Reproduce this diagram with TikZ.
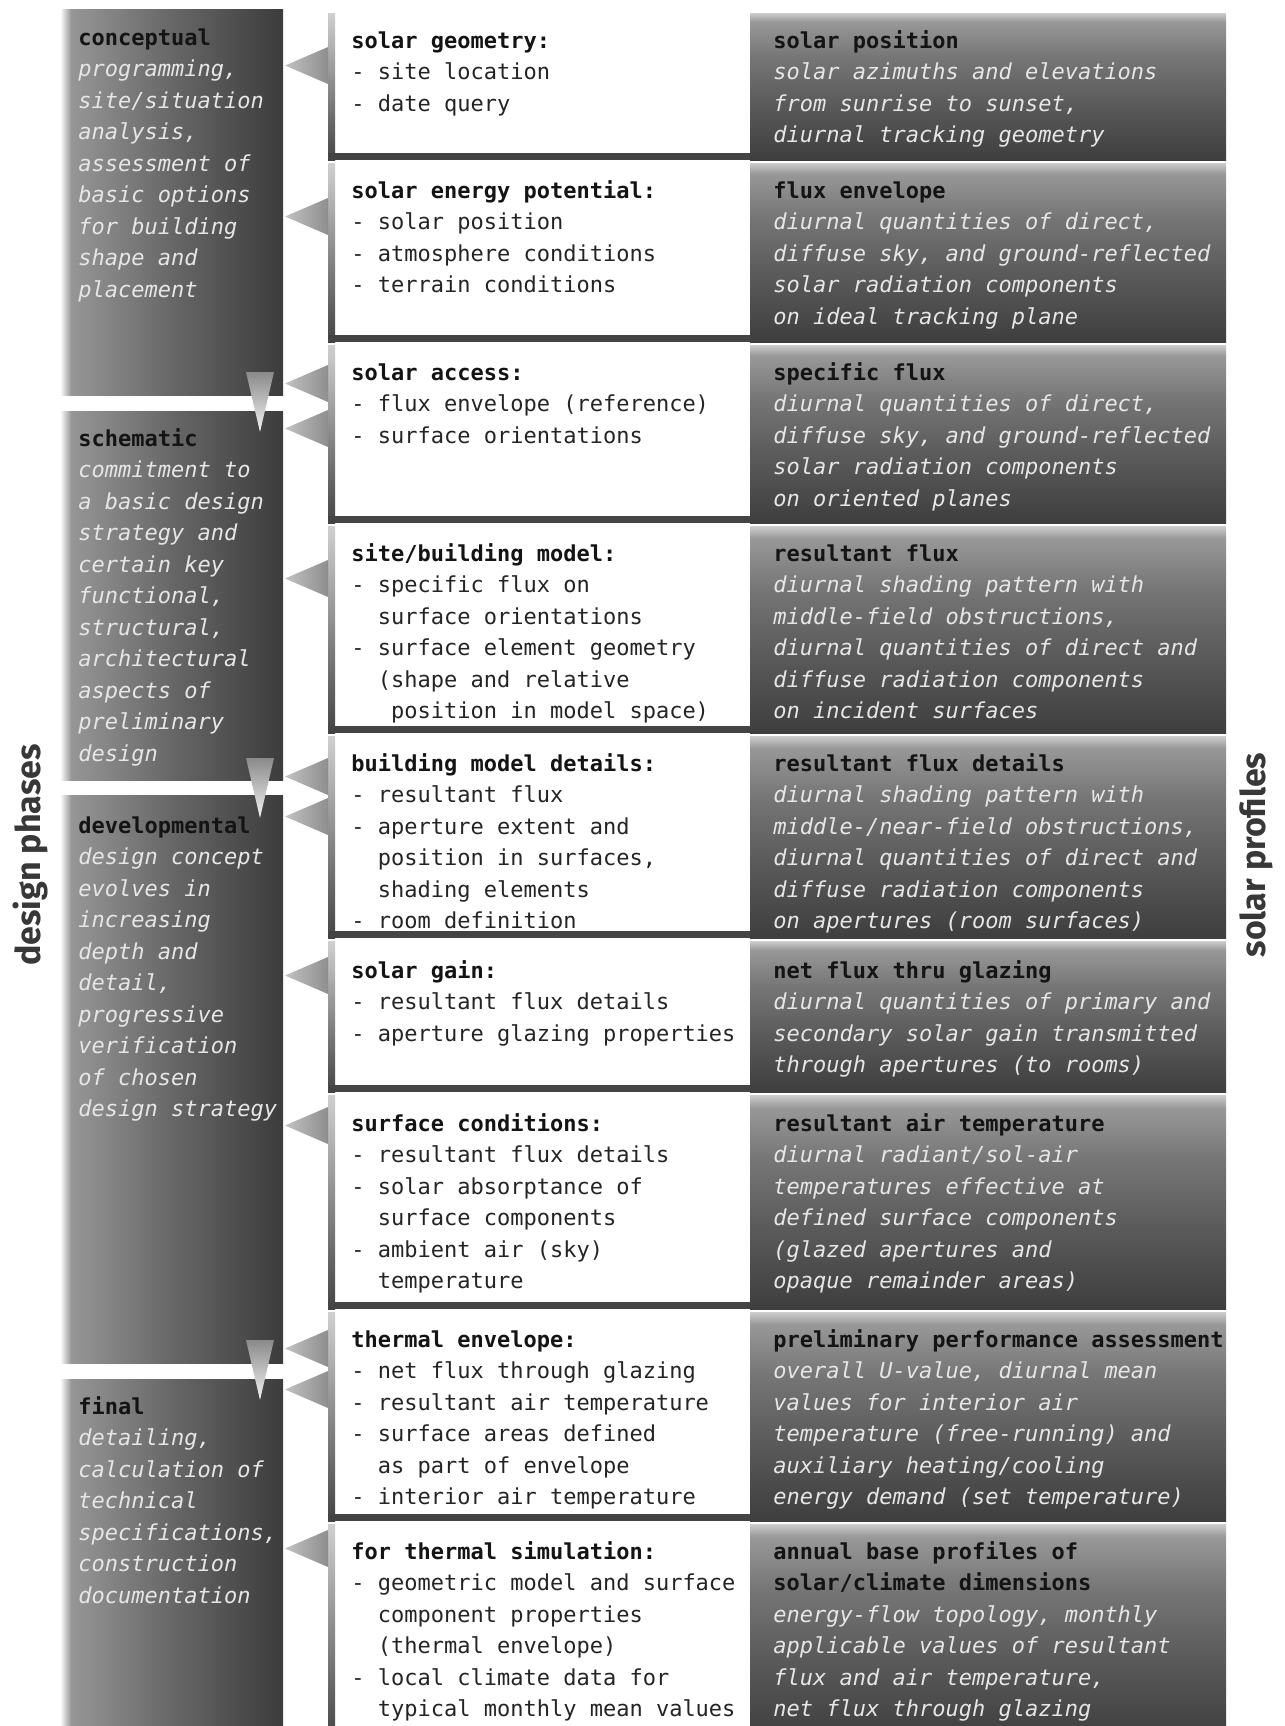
\documentclass[tikz,border=0pt]{standalone}
\usepackage{fontspec}
\setmonofont{DejaVu Sans Mono}
\newfontfamily\labfont{Fira Sans}
\usetikzlibrary{calc}
\definecolor{hdcol}{HTML}{141414}
\definecolor{midtxt}{HTML}{242424}
\definecolor{ital}{HTML}{E6E6E6}
\definecolor{brd}{HTML}{444444}
\definecolor{lbtop}{HTML}{D0D0D0}
\definecolor{labcol}{HTML}{383838}
\definecolor{rbA}{HTML}{3E3E3E}
\definecolor{rbB}{HTML}{5C5C5C}
\definecolor{rbC}{HTML}{767676}
\definecolor{rbD}{HTML}{989898}
\definecolor{rbE}{HTML}{CDCDCD}
\definecolor{phA}{HTML}{969696}
\definecolor{phB}{HTML}{676767}
\definecolor{phC}{HTML}{3C3C3C}
\definecolor{triL}{HTML}{C2C2C2}
\definecolor{triR}{HTML}{8E8E8E}
\definecolor{daT}{HTML}{8A8A8A}
\definecolor{daB}{HTML}{F2F2F2}
\pgfdeclareverticalshading{rboxsh}{100bp}{color(0bp)=(rbA); color(25bp)=(rbA); color(45bp)=(rbB); color(60bp)=(rbC); color(72bp)=(rbD); color(75bp)=(rbE); color(100bp)=(rbE)}
\pgfdeclarehorizontalshading{phsh}{100bp}{color(0bp)=(white); color(25bp)=(white); color(27.5bp)=(phA); color(50bp)=(phB); color(75bp)=(phC); color(100bp)=(phC)}
\newcommand\tf{\ttfamily\fontsize{11pt}{15.75pt}\selectfont}
\newcommand\blk[1]{\begin{tabular}[t]{@{}l@{}}#1\end{tabular}}
\newcommand\hd[1]{{\upshape\bfseries\color{hdcol}#1}}
\newcommand\ind[1]{\hphantom{#1}}
\tikzset{
  mtxt/.style={anchor=base west, inner sep=0pt, font=\tf, text=midtxt},
  rtxt/.style={anchor=base west, inner sep=0pt, font=\tf\itshape, text=ital},
  ptxt/.style={anchor=base west, inner sep=0pt, font=\tf\itshape, text=ital},
  phasebox/.style={shading=phsh},
  rbox/.style={shading=rboxsh},
  tri/.style={left color=triL, right color=triR},
  darrow/.style={top color=daT, bottom color=daB},
  lab/.style={rotate=90, inner sep=0pt, font=\labfont\bfseries\fontsize{17pt}{17pt}\selectfont, text=labcol}
}
\begin{document}
\begin{tikzpicture}[x=0.5pt,y=-0.5pt]
\useasboundingbox (0,0) rectangle (1285,1726);
\clip (0,0) rectangle (1285,1726);
% phase panels
\shade[phasebox] (60,9) rectangle (283,395);
\shade[phasebox] (60,411) rectangle (283,780);
\shade[phasebox] (60,795) rectangle (283,1363);
\shade[phasebox] (60,1379) rectangle (283,1740);
% rows
\foreach \t/\b in {13/160,163/342,345/523,526/733,736/938,941/1092,1095/1309,1312/1521,1524/1740}{
  \shade[rbox] (750,\t) rectangle (1226,\b);
  \fill[white] (335,\t) rectangle (750,\b-7);
  \shade[top color=lbtop, bottom color=brd] (328,\t) rectangle (335,\b);
  \fill[brd] (328,\b-7) rectangle (750,\b);
}
% left-pointing triangles
\foreach \y in {47,198,365,410,560,758,798,957,1107,1330,1371,1530}{
  \shade[tri] (328,\y) -- (285,\y+18.5) -- (328,\y+37) -- cycle;
}
% down arrows
\foreach \y in {372,758,1340}{
  \shade[darrow] (246,\y) -- (274,\y) -- (260,\y+60) -- cycle;
}
% phase texts
\node[ptxt] (p1) at (78,45) {\blk{\hd{conceptual}\\programming,\\site/situation\\analysis,\\assessment of\\basic options\\for building\\shape and\\placement}};
\node[ptxt] (p2) at (78,446) {\blk{\hd{schematic}\\commitment to\\a basic design\\strategy and\\certain key\\functional,\\structural,\\architectural\\aspects of\\preliminary\\design}};
\node[ptxt] (p3) at (78,833) {\blk{\hd{developmental}\\design concept\\evolves in\\increasing\\depth and\\detail,\\progressive\\verification\\of chosen\\design strategy}};
\node[ptxt] (p4) at (78,1414) {\blk{\hd{final}\\detailing,\\calculation of\\technical\\specifications,\\construction\\documentation}};
% middle texts
\node[mtxt] (m1) at (351,48) {\blk{\hd{solar geometry:}\\- site location\\- date query}};
\node[mtxt] (m2) at (351,198) {\blk{\hd{solar energy potential:}\\- solar position\\- atmosphere conditions\\- terrain conditions}};
\node[mtxt] (m3) at (351,380) {\blk{\hd{solar access:}\\- flux envelope (reference)\\- surface orientations}};
\node[mtxt] (m4) at (351,561) {\blk{\hd{site/building model:}\\- specific flux on\\\ind{xx}surface orientations\\- surface element geometry\\\ind{xx}(shape and relative\\\ind{xxx}position in model space)}};
\node[mtxt] (m5) at (351,771) {\blk{\hd{building model details:}\\- resultant flux\\- aperture extent and\\\ind{xx}position in surfaces,\\\ind{xx}shading elements\\- room definition}};
\node[mtxt] (m6) at (351,978) {\blk{\hd{solar gain:}\\- resultant flux details\\- aperture glazing properties}};
\node[mtxt] (m7) at (351,1131) {\blk{\hd{surface conditions:}\\- resultant flux details\\- solar absorptance of\\\ind{xx}surface components\\- ambient air (sky)\\\ind{xx}temperature}};
\node[mtxt] (m8) at (351,1347) {\blk{\hd{thermal envelope:}\\- net flux through glazing\\- resultant air temperature\\- surface areas defined\\\ind{xx}as part of envelope\\- interior air temperature}};
\node[mtxt] (m9) at (351,1559) {\blk{\hd{for thermal simulation:}\\- geometric model and surface\\\ind{xx}component properties\\\ind{xx}(thermal envelope)\\- local climate data for\\\ind{xx}typical monthly mean values}};
% right texts
\node[rtxt] (r1) at (773,48) {\blk{\hd{solar position}\\solar azimuths and elevations\\from sunrise to sunset,\\diurnal tracking geometry}};
\node[rtxt] (r2) at (773,198) {\blk{\hd{flux envelope}\\diurnal quantities of direct,\\diffuse sky, and ground-reflected\\solar radiation components\\on ideal tracking plane}};
\node[rtxt] (r3) at (773,380) {\blk{\hd{specific flux}\\diurnal quantities of direct,\\diffuse sky, and ground-reflected\\solar radiation components\\on oriented planes}};
\node[rtxt] (r4) at (773,561) {\blk{\hd{resultant flux}\\diurnal shading pattern with\\middle-field obstructions,\\diurnal quantities of direct and\\diffuse radiation components\\on incident surfaces}};
\node[rtxt] (r5) at (773,771) {\blk{\hd{resultant flux details}\\diurnal shading pattern with\\middle-/near-field obstructions,\\diurnal quantities of direct and\\diffuse radiation components\\on apertures (room surfaces)}};
\node[rtxt] (r6) at (773,978) {\blk{\hd{net flux thru glazing}\\diurnal quantities of primary and\\secondary solar gain transmitted\\through apertures (to rooms)}};
\node[rtxt] (r7) at (773,1131) {\blk{\hd{resultant air temperature}\\diurnal radiant/sol-air\\temperatures effective at\\defined surface components\\(glazed apertures and\\opaque remainder areas)}};
\node[rtxt] (r8) at (773,1347) {\blk{\hd{preliminary performance assessment}\\overall U-value, diurnal mean\\values for interior air\\temperature (free-running) and\\auxiliary heating/cooling\\energy demand (set temperature)}};
\node[rtxt] (r9) at (773,1559) {\blk{\hd{annual base profiles of}\\\hd{solar/climate dimensions}\\energy-flow topology, monthly\\applicable values of resultant\\flux and air temperature,\\net flux through glazing}};
% side labels
\node[lab] (dp) at (30,855) {design phases};
\node[lab] (sp) at (1256,855) {solar profiles};
\end{tikzpicture}
\end{document}
